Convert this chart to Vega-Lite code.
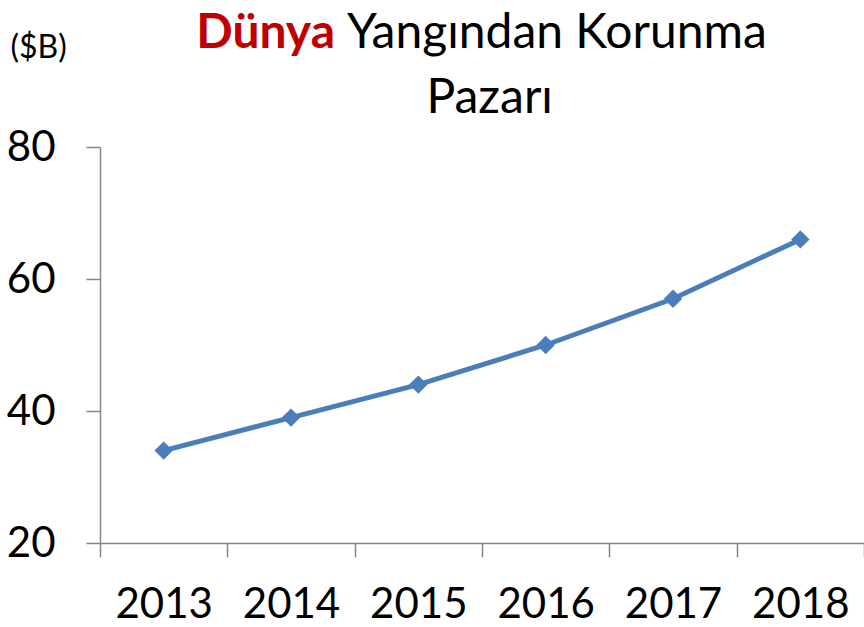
{
  "$schema": "https://vega.github.io/schema/vega-lite/v6.json",
  "width": 764,
  "height": 396,
  "autosize": {"type": "none"},
  "padding": {"left": 100, "top": 147, "right": 0, "bottom": 84},
  "background": "white",
  "config": {"font": "Lato", "view": {"stroke": null}},
  "layer": [
    {
      "data": {
        "values": [
          {"year": "2013", "value": 34},
          {"year": "2014", "value": 39},
          {"year": "2015", "value": 44},
          {"year": "2016", "value": 50},
          {"year": "2017", "value": 57},
          {"year": "2018", "value": 66}
        ]
      },
      "encoding": {
        "x": {
          "field": "year",
          "type": "ordinal",
          "scale": {"type": "band", "paddingInner": 0, "paddingOuter": 0},
          "axis": {
            "title": null,
            "labelAngle": 0,
            "labelFontSize": 42,
            "labelColor": "black",
            "domainColor": "#868686",
            "tickColor": "#868686",
            "domainWidth": 1.5,
            "tickWidth": 1.5,
            "tickSize": 14,
            "labelPadding": 27,
            "tickBand": "extent"
          }
        },
        "y": {
          "field": "value",
          "type": "quantitative",
          "scale": {"domain": [20, 80], "nice": false, "zero": false},
          "axis": {
            "title": "($B)",
            "titleAngle": 0,
            "titleAlign": "left",
            "titleBaseline": "middle",
            "titleX": -90,
            "titleY": -100,
            "titleFontSize": 32,
            "titleFontWeight": "normal",
            "titleColor": "black",
            "values": [20, 40, 60, 80],
            "labelFontSize": 42,
            "labelColor": "black",
            "labelPadding": 31,
            "tickSize": 14,
            "grid": false,
            "domainColor": "#868686",
            "tickColor": "#868686",
            "domainWidth": 1.5,
            "tickWidth": 1.5
          }
        }
      },
      "layer": [
        {"mark": {"type": "line", "color": "#4A7EBB", "strokeWidth": 5}},
        {"mark": {"type": "point", "shape": "diamond", "filled": true, "size": 340, "color": "#4A7EBB", "opacity": 1}}
      ]
    },
    {
      "data": {"values": [{"t": "Dünya"}]},
      "mark": {"type": "text", "color": "#C00000", "fontWeight": "bold", "fontSize": 48, "align": "right", "baseline": "alphabetic", "dx": 44, "dy": -99},
      "encoding": {"x": {"datum": "2014", "type": "ordinal"}, "y": {"datum": 80, "type": "quantitative"}, "text": {"field": "t", "type": "nominal"}}
    },
    {
      "data": {"values": [{"t": "Yangından Korunma"}]},
      "mark": {"type": "text", "color": "black", "fontSize": 48, "align": "left", "baseline": "alphabetic", "dx": 56, "dy": -99},
      "encoding": {"x": {"datum": "2014", "type": "ordinal"}, "y": {"datum": 80, "type": "quantitative"}, "text": {"field": "t", "type": "nominal"}}
    },
    {
      "data": {"values": [{"t": "Pazarı"}]},
      "mark": {"type": "text", "color": "black", "fontSize": 48, "align": "center", "baseline": "alphabetic", "dx": -56, "dy": -34},
      "encoding": {"x": {"datum": "2016", "type": "ordinal"}, "y": {"datum": 80, "type": "quantitative"}, "text": {"field": "t", "type": "nominal"}}
    }
  ]
}
